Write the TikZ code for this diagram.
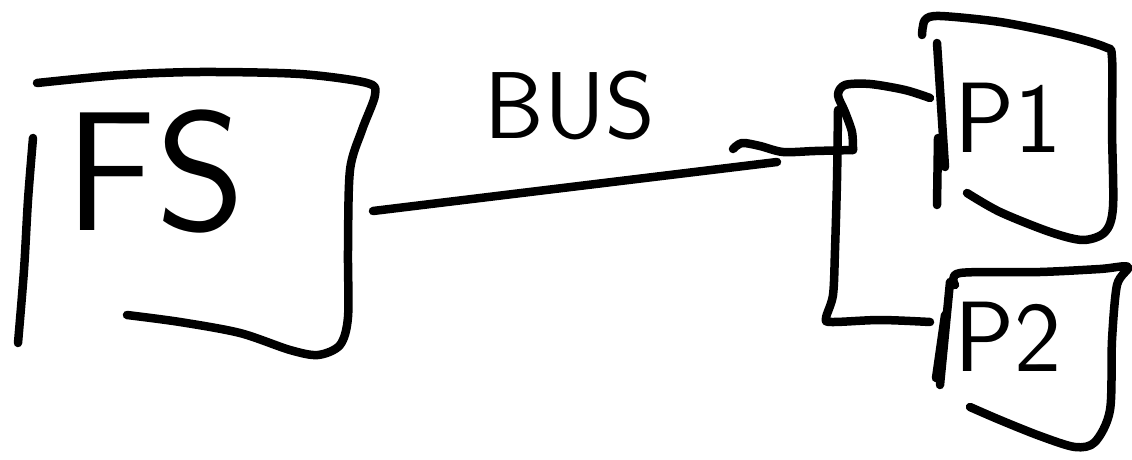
\documentclass[tikz,border=0pt]{standalone}
\usepackage{fontspec}
\begin{document}
\begin{tikzpicture}[x=1pt,y=-1pt,
  stroke/.style={line width=8.5pt,line cap=round,line join=round,black},
  lbl/.style={inner sep=0pt,font=\sffamily\fontsize{#1}{#1}\selectfont}]
\useasboundingbox[fill=white] (0,0) rectangle (1132,460);
% FS box
\draw[stroke] plot[smooth] coordinates {(33,138) (28,200) (24,270) (18,343)};
\draw[stroke] plot[smooth] coordinates {(37,83) (120,75) (200,72) (300,74) (367,83) (375,95) (362,130) (350,170) (348,250) (348,317) (340,345) (318,355) (290,350) (240,333) (180,322) (127,315)};
\node[lbl=170] (FS) at (155,172) {FS};
% bus
\coordinate (busA) at (373,211);
\coordinate (busB) at (777,162);
\draw[stroke] (busA) -- (busB);
\node[lbl=95] (BUS) at (570,106) {BUS};
% bracket
\draw[stroke] plot[smooth] coordinates {(733,149) (742,143) (760,146) (783,152) (815,151) (853,150)};
\draw[stroke] plot[smooth] coordinates {(930,98) (905,90) (870,84) (845,85) (838,95) (845,112) (852,132) (853,150)};
\draw[stroke] plot[smooth] coordinates {(838,110) (837,180) (835,250) (833,295) (826,318) (832,322) (880,320) (930,322)};
% P1 box
\draw[stroke] plot[smooth] coordinates {(922,35) (925,20) (940,16) (1000,22) (1060,34) (1105,47) (1112,58) (1112,130) (1113,207) (1105,232) (1083,240) (1050,232) (1000,212) (967,193)};
\draw[stroke] (937,43) -- (945,167);
\draw[stroke] (938,138) -- (937,205);
\node[lbl=100] (P1) at (1008,118) {P1};
% P2 box
\draw[stroke] plot[smooth] coordinates {(955,285) (960,273) (1040,272) (1100,269) (1128,267) (1117,285) (1112,340) (1110,410) (1095,442) (1075,447) (1040,436) (1000,420) (970,407)};
\draw[stroke] (950,282) -- (940,385);
\draw[stroke] (945,315) -- (936,378);
\node[lbl=100] (P2) at (1008,337) {P2};
\end{tikzpicture}
\end{document}
